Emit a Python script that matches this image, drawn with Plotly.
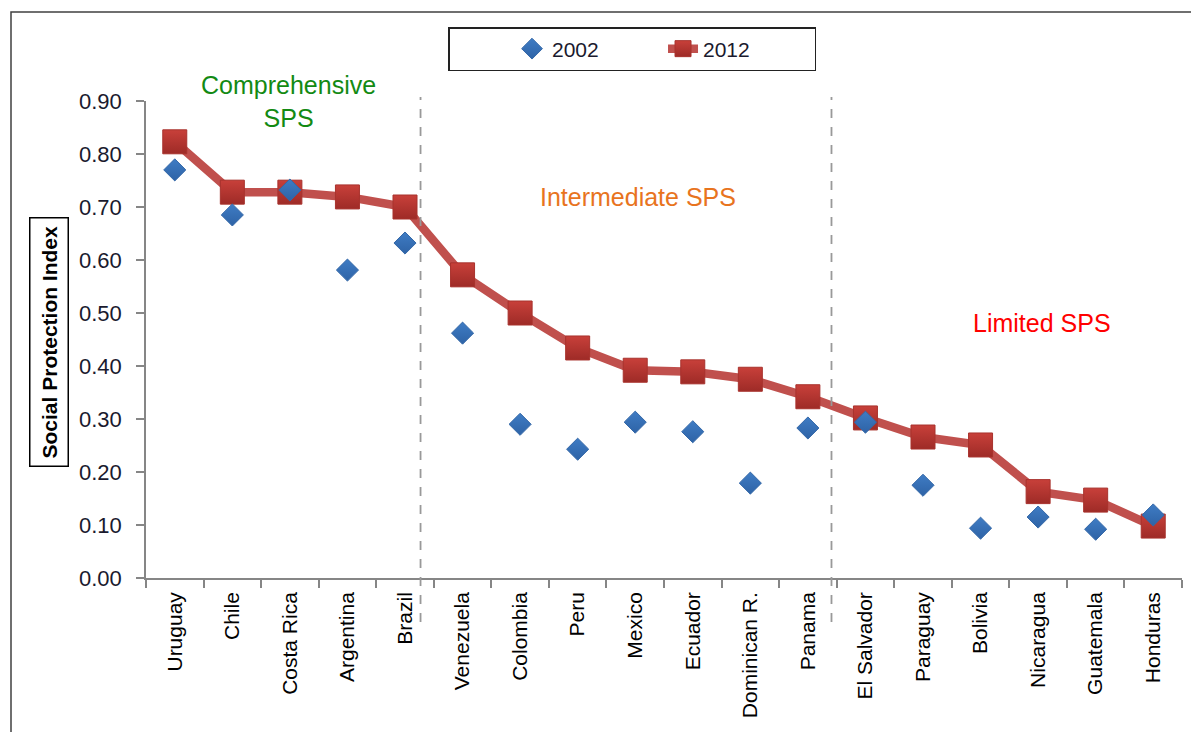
import plotly.graph_objects as go

countries = ["Uruguay", "Chile", "Costa Rica", "Argentina", "Brazil", "Venezuela",
             "Colombia", "Peru", "Mexico", "Ecuador", "Dominican R.", "Panama",
             "El Salvador", "Paraguay", "Bolivia", "Nicaragua", "Guatemala", "Honduras"]
spi_2002 = [0.77, 0.685, 0.732, 0.581, 0.632, 0.462, 0.29, 0.243, 0.294, 0.276,
            0.179, 0.283, 0.294, 0.175, 0.094, 0.115, 0.092, 0.119]
spi_2012 = [0.823, 0.728, 0.728, 0.719, 0.70, 0.572, 0.50, 0.434, 0.392, 0.389,
            0.375, 0.342, 0.302, 0.266, 0.251, 0.163, 0.147, 0.098]
y_ticks = [0.0, 0.1, 0.2, 0.3, 0.4, 0.5, 0.6, 0.7, 0.8, 0.9]
group_breaks = [4.27, 11.41]
group_labels = ["Comprehensive<br>SPS", "Intermediate SPS", "Limited SPS"]

W, H = 1199, 732
OFF = 8  # page body margin
L, R, T, B = 138, 25, 93, 162
pw, ph = W - L - R, H - T - B


def px(x):
    return (x - OFF - L) / pw


def py(y):
    return (H - B - (y - OFF)) / ph


REG = "Liberation Sans, Arial, sans-serif"

fig = go.Figure()
fig.add_trace(go.Scatter(
    x=countries, y=spi_2012, name="2012", mode="lines+markers",
    line=dict(color="#C0504D", width=8.5),
    marker=dict(symbol="square", size=24, color="#C8403A",
                gradient=dict(type="vertical", color="#9E2B27"),
                line=dict(color="#A8322D", width=1)),
    legendrank=2,
))
fig.add_trace(go.Scatter(
    x=countries, y=spi_2002, name="2002", mode="markers",
    marker=dict(symbol="diamond", size=17, color="#3F7CC4",
                gradient=dict(type="vertical", color="#2E63A6"),
                line=dict(color="#3468A8", width=1)),
    legendrank=1,
))

n_cat = len(countries)
shapes = []
for gx in group_breaks:
    xp = (gx + 0.5) / n_cat
    shapes.append(dict(type="line", xref="paper", yref="paper", x0=xp, x1=xp,
                       y0=py(622), y1=py(97),
                       line=dict(color="#999999", width=1.8, dash="dash")))
shapes.append(dict(type="rect", xref="paper", yref="paper",
                   x0=px(11), x1=px(1260), y0=py(800), y1=py(12),
                   line=dict(color="#404040", width=1.5), layer="below"))

annotations = [
    dict(text="<b>Social Protection Index</b>", textangle=-90, xref="paper", yref="paper",
         x=px(49), y=py(342), xanchor="center", yanchor="middle", showarrow=False,
         font=dict(family=REG, size=21, color="#000000"),
         bordercolor="#000000", borderwidth=1.5, borderpad=7, bgcolor="white"),
    dict(text=group_labels[0], xref="paper", yref="paper", x=px(288), y=py(101),
         xanchor="center", yanchor="middle", showarrow=False,
         font=dict(family=REG, size=25, color="#138A13")),
    dict(text=group_labels[1], xref="paper", yref="paper", x=px(638), y=py(197),
         xanchor="center", yanchor="middle", showarrow=False,
         font=dict(family=REG, size=25, color="#E8741E")),
    dict(text=group_labels[2], xref="paper", yref="paper", x=px(1042), y=py(323),
         xanchor="center", yanchor="middle", showarrow=False,
         font=dict(family=REG, size=25, color="#FF0000")),
]

fig.update_layout(
    width=W, height=H,
    margin=dict(l=L, r=R, t=T, b=B),
    paper_bgcolor="white", plot_bgcolor="white",
    showlegend=True,
    legend=dict(orientation="h", x=px(448), y=py(27), xanchor="left", yanchor="top",
                bordercolor="#222222", borderwidth=1.5, bgcolor="white",
                font=dict(family=REG, size=21, color="#1A1A2E"),
                title=dict(text="&nbsp;" * 9, side="left", font=dict(family=REG, size=21)),
                entrywidth=106, itemsizing="trace"),
    shapes=shapes,
    annotations=annotations,
)
fig.update_xaxes(
    categoryorder="array", categoryarray=countries, range=[-0.5, n_cat - 0.5],
    tickson="boundaries", ticks="outside", ticklen=8, tickcolor="#868686", tickwidth=1.5,
    showline=True, linecolor="#868686", linewidth=1.5, showgrid=False, zeroline=False,
    tickangle=-90, tickfont=dict(family=REG, size=21, color="#000000"),
    ticklabelstandoff=4,
)
fig.update_yaxes(
    range=[0, 0.9], tickvals=y_ticks, ticktext=[f"{v:.2f}" for v in y_ticks],
    ticks="outside", ticklen=8, tickcolor="#868686", tickwidth=1.5,
    showline=True, linecolor="#868686", linewidth=1.5, showgrid=False, zeroline=False,
    tickfont=dict(family=REG, size=22, color="#1A1A2E"), ticklabelstandoff=10,
)

fig.write_html("out.html")
